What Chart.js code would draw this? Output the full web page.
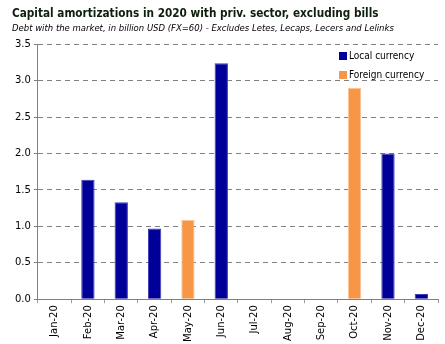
<!DOCTYPE html>
<html>
<head>
<meta charset="utf-8">
<script src="https://cdn.jsdelivr.net/npm/chart.js@4/dist/chart.umd.min.js"></script>
<style>
  html, body { margin: 0; padding: 0; background: #fff; }
  #wrap { position: relative; width: 445px; height: 344px; }
  #legend { position: absolute; left: 339px; top: 50px; font: 10px "DejaVu Sans Condensed", "DejaVu Sans", sans-serif; color: #000; }
  #legend div { height: 19px; line-height: 12px; white-space: nowrap; }
  #legend span { display: inline-block; width: 8px; height: 8px; margin-right: 2px; vertical-align: -1px; }
</style>
</head>
<body>
<div id="wrap">
  <canvas id="chart" width="445" height="344"></canvas>
  <div id="legend"></div>
</div>
<script>
const months = ['Jan-20', 'Feb-20', 'Mar-20', 'Apr-20', 'May-20', 'Jun-20',
                'Jul-20', 'Aug-20', 'Sep-20', 'Oct-20', 'Nov-20', 'Dec-20'];
const localCurrency = [null, 1.64, 1.33, 0.97, null, 3.24, null, null, null, null, 2.00, 0.07];
const foreignCurrency = [null, null, null, null, 1.09, null, null, null, null, 2.90, null, null];
const yTicks = [0, 0.5, 1, 1.5, 2, 2.5, 3, 3.5];

const BLUE = '#000099';
const ORANGE = '#F79646';

const datasets = [
  { label: 'Local currency', data: localCurrency, backgroundColor: BLUE, borderColor: '#3b3bb5', borderWidth: 1 },
  { label: 'Foreign currency', data: foreignCurrency, backgroundColor: ORANGE, borderColor: '#fbc59a', borderWidth: 1 }
];

// simple legend box in the upper right of the plot
const legend = document.getElementById('legend');
datasets.forEach(ds => {
  const row = document.createElement('div');
  row.innerHTML = '<span style="background:' + ds.backgroundColor + '"></span>' + ds.label;
  legend.appendChild(row);
});

new Chart(document.getElementById('chart'), {
  type: 'bar',
  data: { labels: months, datasets: datasets },
  options: {
    responsive: false,
    animation: false,
    layout: { padding: { left: 12, right: 7, top: 0, bottom: 0 } },
    datasets: { bar: { barPercentage: 0.4, categoryPercentage: 1 } },
    plugins: {
      legend: { display: false },
      tooltip: { enabled: false },
      title: {
        display: true,
        text: 'Capital amortizations in 2020 with priv. sector, excluding bills',
        align: 'start',
        color: '#0d1f0d',
        font: { family: '"DejaVu Sans Condensed", "DejaVu Sans"', size: 11.7, weight: 'bold' },
        padding: { top: 7, bottom: 2 }
      },
      subtitle: {
        display: true,
        text: 'Debt with the market, in billion USD (FX=60) - Excludes Letes, Lecaps, Lecers and Lelinks',
        align: 'start',
        color: '#000',
        font: { family: '"DejaVu Sans Condensed", "DejaVu Sans"', size: 9.45, style: 'italic' },
        padding: { top: 0, bottom: 10 }
      }
    },
    scales: {
      x: {
        stacked: true,
        offset: true,
        grid: { display: true, drawOnChartArea: false, drawTicks: true, tickLength: 4, color: '#999', offset: true },
        border: { color: '#808080', width: 1 },
        ticks: {
          minRotation: 90, maxRotation: 90, autoSkip: false, padding: 2,
          color: '#000', font: { family: 'Tahoma, "DejaVu Sans"', size: 10 }
        }
      },
      y: {
        stacked: true,
        min: 0, max: 3.5,
        afterBuildTicks: axis => { axis.ticks = yTicks.map(v => ({ value: v })); },
        grid: { color: '#808080', tickLength: 4, tickBorderDash: [], tickColor: '#808080' },
        border: { color: '#808080', width: 1, dash: [5, 4] },
        ticks: {
          padding: 3, color: '#000',
          font: { family: 'Tahoma, "DejaVu Sans"', size: 10 },
          callback: v => Number(v).toFixed(1)
        }
      }
    }
  }
});
</script>
</body>
</html>
